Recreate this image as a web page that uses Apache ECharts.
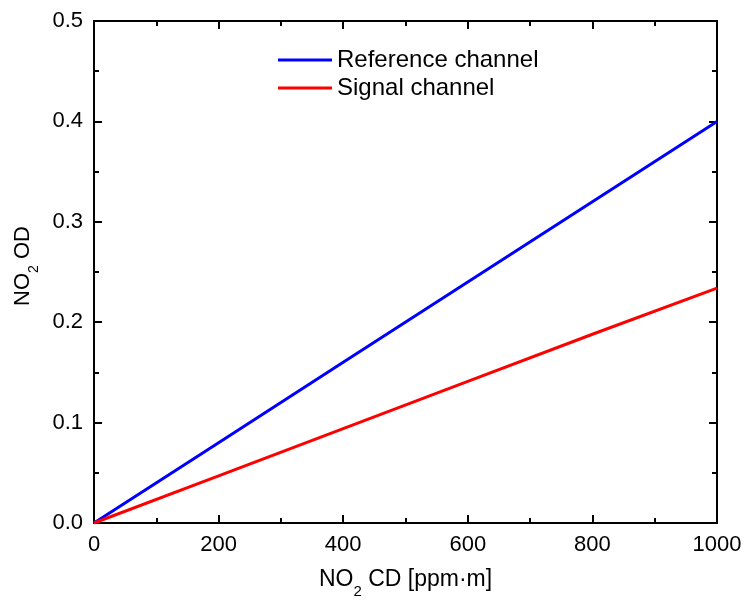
<!DOCTYPE html>
<html><head><meta charset="utf-8">
<script src="https://cdn.jsdelivr.net/npm/echarts@6/dist/echarts.min.js"></script>
<style>html,body{margin:0;padding:0;background:#fff}#c{width:745px;height:600px}</style>
</head><body><div id="c"></div>
<script>
const xValues = [0, 200, 400, 600, 800, 1000];
const referenceOD = [0, 0.080, 0.160, 0.240, 0.320, 0.400];
const signalOD = [0, 0.047, 0.094, 0.141, 0.188, 0.234];
const seriesNames = ['Reference channel', 'Signal channel'];
const font = 'Liberation Sans, Arial, sans-serif';

const chart = echarts.init(document.getElementById('c'));
const baseAxis = {
  axisLine: {show: true, onZero: false, lineStyle: {color: '#000', width: 2}},
  axisTick: {show: true, inside: true, length: 8, lineStyle: {color: '#000', width: 2}},
  minorTick: {show: true, splitNumber: 2, length: 5, lineStyle: {color: '#000', width: 2}},
  splitLine: {show: false}
};
const xBase = Object.assign({}, baseAxis, {type: 'value', min: 0, max: 1000, interval: 200});
const yBase = Object.assign({}, baseAxis, {type: 'value', min: 0, max: 0.5, interval: 0.1});
const rich = {
  a: {fontFamily: font, fontSize: 23, color: '#000'},
  s: {fontFamily: font, fontSize: 15, color: '#000', verticalAlign: 'bottom', padding: [0, 0, -8, 0]}
};
const richY = {
  a: {fontFamily: font, fontSize: 22, color: '#000'},
  s: {fontFamily: font, fontSize: 14, color: '#000', verticalAlign: 'bottom', padding: [0, 0, -8, 0]}
};
chart.setOption({
  animation: false,
  grid: {left: 94, right: 28, top: 21, bottom: 77, containLabel: false, outerBoundsMode: 'none'},
  legend: {
    data: seriesNames.map(n => ({name: n, icon: 'rect'})),
    orient: 'vertical', left: 278, top: 48, itemGap: 4, padding: 0,
    itemWidth: 54, itemHeight: 3,
    textStyle: {fontFamily: font, fontSize: 24, lineHeight: 24, color: '#000'}
  },
  xAxis: [
    Object.assign({}, xBase, {
      position: 'bottom',
      axisLabel: {fontFamily: font, fontSize: 22, color: '#000', margin: 11,
        formatter: v => String(v)},
      name: '{a|NO}{s|2}{a| CD [ppm·m]}', nameLocation: 'middle', nameGap: 45,
      nameTextStyle: {rich: rich}
    }),
    Object.assign({}, xBase, {position: 'top', axisLabel: {show: false}})
  ],
  yAxis: [
    Object.assign({}, yBase, {
      position: 'left',
      axisLabel: {fontFamily: font, fontSize: 22, color: '#000', margin: 11,
        formatter: v => v.toFixed(1)},
      name: '{a|NO}{s|2}{a| OD}', nameLocation: 'middle', nameGap: 48,
      nameTextStyle: {rich: richY, padding: [0, 0, 0, 12]}
    }),
    Object.assign({}, yBase, {position: 'right', axisLabel: {show: false}})
  ],
  series: [
    {name: seriesNames[0], type: 'line', showSymbol: false, symbol: 'none',
     lineStyle: {color: '#0000ff', width: 3}, itemStyle: {color: '#0000ff'},
     data: xValues.map((x, i) => [x, referenceOD[i]])},
    {name: seriesNames[1], type: 'line', showSymbol: false, symbol: 'none',
     lineStyle: {color: '#ff0000', width: 3}, itemStyle: {color: '#ff0000'},
     data: xValues.map((x, i) => [x, signalOD[i]])}
  ]
});
</script></body></html>
